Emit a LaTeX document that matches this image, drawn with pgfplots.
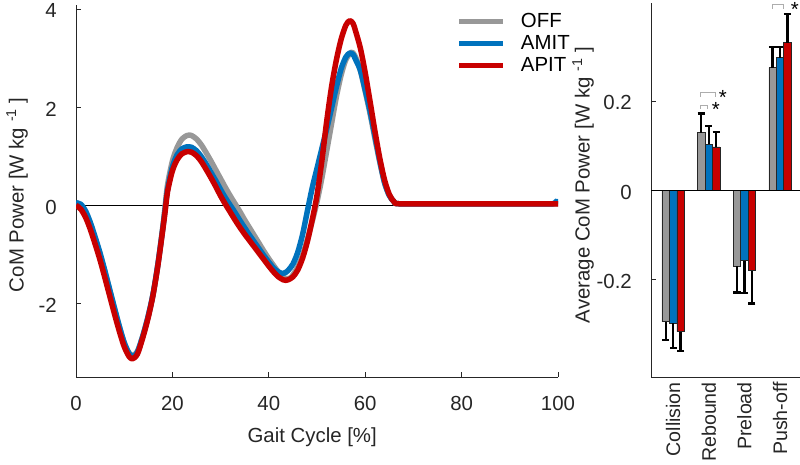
\documentclass[border=0pt]{standalone}
\usepackage{fontspec}
\setmainfont{Liberation Sans}
\usepackage{pgfplots}
\pgfplotsset{compat=1.18}
\definecolor{cOff}{RGB}{152,152,152}
\definecolor{cAmit}{RGB}{0,114,189}
\definecolor{cApit}{RGB}{200,0,0}
\definecolor{axgray}{RGB}{38,38,38}

\pgfplotsset{
  myerr/.style={error bars/.cd, y dir=#1, y explicit,
    error bar style={line width=2.2pt, black, solid},
    error mark options={rotate=90, line width=2.2pt, mark size=3.6pt, black, solid}},
}

\pgfplotstableread{
x y
0 0.02
1 -0.02
2 -0.15
3 -0.38
4 -0.68
5 -1.00
6 -1.36
7 -1.74
8 -2.12
9 -2.48
10 -2.80
11 -3.01
11.8 -3.06
12.5 -3.01
13 -2.92
14 -2.62
15 -2.26
16 -1.82
17 -1.20
18 -0.45
18.5 -0.02
19 0.42
20 0.90
21 1.18
22 1.35
23 1.42
23.5 1.43
24 1.42
25 1.35
26 1.23
27 1.07
28 0.90
29 0.72
30 0.54
31 0.36
32 0.19
33 0.03
34 -0.13
35 -0.30
36 -0.46
37 -0.62
38 -0.78
39 -0.94
40 -1.09
41 -1.23
42 -1.36
43 -1.46
43.8 -1.50
44.5 -1.48
45 -1.42
46 -1.26
47 -1.02
48 -0.70
49 -0.33
50 0.07
51 0.55
52 1.10
53 1.65
54 2.20
55 2.65
56 2.97
57 3.11
57.3 3.12
58 3.02
59 2.74
60 2.32
61 1.87
62 1.37
63 0.89
64 0.46
65 0.20
66 0.07
67 0.03
75 0.03
85 0.03
95 0.03
100 0.03
}\offdata

\pgfplotstableread{
x y
0 0.05
1 0.02
2 -0.12
3 -0.36
4 -0.66
5 -0.98
6 -1.34
7 -1.72
8 -2.10
9 -2.47
10 -2.80
11 -3.02
11.8 -3.08
12.5 -3.03
13 -2.93
14 -2.62
15 -2.25
16 -1.80
17 -1.20
18 -0.48
18.5 -0.08
19 0.32
20 0.78
21 1.03
22 1.15
23 1.19
23.5 1.19
24 1.18
25 1.11
26 0.99
27 0.84
28 0.67
29 0.50
30 0.32
31 0.15
32 0.00
33 -0.15
34 -0.31
35 -0.46
36 -0.61
37 -0.75
38 -0.89
39 -1.03
40 -1.16
41 -1.28
42 -1.36
42.7 -1.39
43.5 -1.37
44 -1.33
45 -1.20
46 -0.96
47 -0.60
48 -0.12
49 0.35
50 0.75
51 1.15
52 1.55
53 1.97
54 2.40
55 2.78
56 3.02
56.8 3.10
57.5 3.07
58 2.97
59 2.75
60 2.35
61 1.92
62 1.42
63 0.92
64 0.47
65 0.20
66 0.07
67 0.03
75 0.03
85 0.03
95 0.03
99 0.03
99.6 0.08
100 0.05
}\amitdata

\pgfplotstableread{
x y
0 0.00
1 -0.08
2 -0.25
3 -0.50
4 -0.80
5 -1.12
6 -1.48
7 -1.85
8 -2.22
9 -2.57
10 -2.88
11 -3.08
11.7 -3.13
12.5 -3.07
13 -2.97
14 -2.65
15 -2.28
16 -1.82
17 -1.22
18 -0.50
18.5 -0.12
19 0.28
20 0.70
21 0.93
22 1.05
23 1.09
23.5 1.09
24 1.08
25 1.01
26 0.89
27 0.73
28 0.56
29 0.38
30 0.19
31 0.02
32 -0.14
33 -0.30
34 -0.45
35 -0.59
36 -0.72
37 -0.85
38 -0.98
39 -1.11
40 -1.24
41 -1.36
42 -1.46
43 -1.52
43.5 -1.53
44 -1.52
45 -1.46
46 -1.32
47 -1.08
48 -0.74
49 -0.30
50 0.20
51 0.90
52 1.70
53 2.40
54 2.95
55 3.38
56 3.67
56.8 3.76
57.5 3.70
58 3.55
59 3.20
60 2.70
61 2.12
62 1.52
63 0.97
64 0.52
65 0.22
66 0.07
67 0.03
75 0.03
85 0.03
95 0.03
100 0.03
}\apitdata

\begin{document}
\fontsize{20.4}{24.5}\selectfont
\begin{tikzpicture}
\path[use as bounding box] (0,0) rectangle (800pt,464pt);
\begin{axis}[
  at={(76pt,87pt)}, anchor=south west,
  scale only axis, width=482pt, height=372pt,
  xmin=0, xmax=100, ymin=-3.5, ymax=4.08,
  axis x line=bottom, axis y line=left,
  axis line style={-, line width=0.8pt, color=axgray},
  tick align=inside, major tick length=5pt,
  tick style={line width=0.8pt, color=axgray},
  xtick={0,20,40,60,80,100}, xticklabels={0,20,40,60,80,100},
  ytick={-2,0,2,4}, yticklabels={-2,0,2,4},
  xticklabel style={anchor=center, yshift=-26pt, text=axgray},
  yticklabel style={anchor=east, inner sep=0pt, xshift=-19pt, yshift=-2pt, text=axgray},
  xlabel={Gait Cycle [\%]},
  ylabel={CoM Power [W kg \textsuperscript{-1} ]},
  xlabel style={at={(rel axis cs:0.49,-0.161)}, anchor=center, text=axgray},
  ylabel style={at={(rel axis cs:-0.1224,0.49)}, anchor=center, text=axgray},
  legend style={at={(rel axis cs:0.790,0.979)}, anchor=north west, draw=none, fill=none,
    inner sep=0pt, row sep=5pt, column sep=15pt, nodes={inner sep=0pt, text=black}},
  legend cell align=left,
  legend image code/.code={\draw[#1, line width=5pt] (0pt,0pt) -- (44pt,0pt);},
]
\addplot[black, line width=0.9pt, forget plot] coordinates {(0,0) (100,0)};
\addplot[cOff, line width=5.5pt, smooth, line join=round] table[x=x,y=y] {\offdata};
\addplot[cAmit, line width=5.5pt, smooth, line join=round] table[x=x,y=y] {\amitdata};
\addplot[cApit, line width=5.5pt, smooth, line join=round] table[x=x,y=y] {\apitdata};
\legend{OFF,AMIT,APIT}
\end{axis}

\begin{axis}[
  at={(651pt,87pt)}, anchor=south west,
  scale only axis, width=149pt, height=374pt,
  xmin=0.38, xmax=4.56, ymin=-0.42, ymax=0.42,
  axis x line=bottom, axis y line=left,
  axis line style={-, line width=0.8pt, color=axgray},
  clip=false,
  tick align=inside, major tick length=5pt,
  tick style={line width=0.8pt, color=axgray},
  xtick={1,2,3,4}, xticklabels={Collision,Rebound,Preload,Push-off},
  xtick style={draw=none},
  xticklabel style={rotate=90, anchor=east, inner sep=5pt, text=axgray, font=\fontsize{19.6}{23}\selectfont},
  ytick={-0.2,0,0.2}, yticklabels={-0.2,0,0.2},
  yticklabel style={anchor=east, inner sep=0pt, xshift=-19pt, yshift=-2pt, text=axgray},
  ylabel={Average CoM Power [W kg \textsuperscript{-1} ]},
  ylabel style={at={(rel axis cs:-0.456,0.513)}, anchor=center, text=axgray},
  every axis plot/.append style={ybar, bar width=0.21, bar shift=0pt, draw=black!85, line width=0.6pt},
]
% OFF
\addplot[fill=cOff, myerr=minus]
  coordinates {(0.79,-0.296) +- (0,0.040) (2.79,-0.171) +- (0,0.059)};
\addplot[fill=cOff, myerr=plus]
  coordinates {(1.79,0.129) +- (0,0.043) (3.79,0.275) +- (0,0.046)};
% AMIT
\addplot[fill=cAmit, myerr=minus]
  coordinates {(1.00,-0.299) +- (0,0.055) (3.00,-0.159) +- (0,0.073)};
\addplot[fill=cAmit, myerr=plus]
  coordinates {(2.00,0.103) +- (0,0.040) (4.00,0.297) +- (0,0.025)};
% APIT
\addplot[fill=cApit, myerr=minus]
  coordinates {(1.21,-0.318) +- (0,0.043) (3.21,-0.181) +- (0,0.074)};
\addplot[fill=cApit, myerr=plus]
  coordinates {(2.21,0.097) +- (0,0.034) (4.21,0.331) +- (0,0.064)};
% baseline
\addplot[sharp plot, draw=black, line width=0.8pt, forget plot] coordinates {(0.38,0) (4.56,0)};
% significance
\draw[black!32, line width=0.9pt] (axis cs:1.753,0.209) -- (axis cs:1.753,0.218) -- (axis cs:2.2,0.218) -- (axis cs:2.2,0.209);
\draw[black!32, line width=0.9pt] (axis cs:1.753,0.182) -- (axis cs:1.753,0.191) -- (axis cs:1.977,0.191) -- (axis cs:1.977,0.182);
\draw[black!32, line width=0.9pt] (axis cs:3.79,0.407) -- (axis cs:3.79,0.416) -- (axis cs:4.10,0.416) -- (axis cs:4.10,0.407);
\node[inner sep=0pt, text=black] at (axis cs:2.397,0.208) {*};
\node[inner sep=0pt, text=black] at (axis cs:2.20,0.181) {*};
\node[inner sep=0pt, text=black] at (axis cs:4.413,0.406) {*};
\end{axis}
\end{tikzpicture}
\end{document}
